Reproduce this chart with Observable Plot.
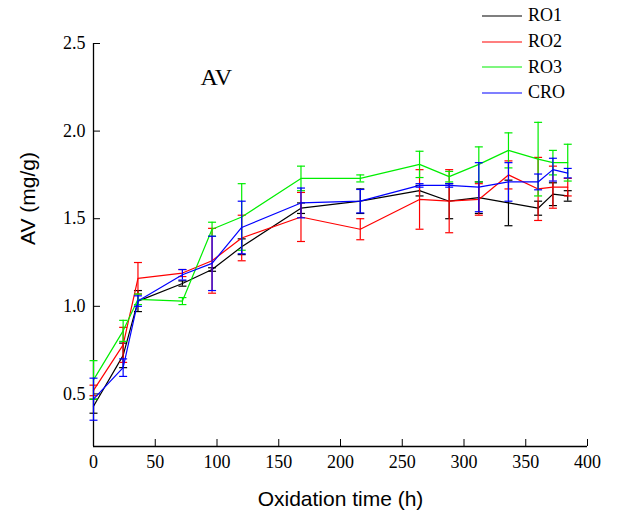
<!DOCTYPE html>
<html><head><meta charset="utf-8">
<script src="https://cdn.jsdelivr.net/npm/d3@7"></script>
<script src="https://cdn.jsdelivr.net/npm/@observablehq/plot@0.6"></script>
<style>
body{margin:0;background:#fff;}
#wrap{position:relative;width:617px;height:520px;}
#legend{position:absolute;left:481px;top:3px;font-family:"Liberation Serif",serif;font-size:18px;color:#000;}
.item{display:flex;align-items:center;height:25.7px;}
.item svg{margin-right:5px;display:block}
g[aria-label*="tick label"] text{font-family:"Liberation Serif",serif !important;font-size:18px !important;}
</style></head><body><div id="wrap"><div id="legend"></div></div>
<script>
const times = [0, 24, 36, 72, 96, 120, 168, 216, 264, 288, 312, 336, 360, 372, 384];
const seriesNames = ["RO1", "RO2", "RO3", "CRO"];
const seriesColors = ["#000000", "#ff0000", "#00ee00", "#0000ff"];
const ro1 = [0.43, 0.72, 1.03, 1.13, 1.21, 1.34, 1.56, 1.60, 1.66, 1.60, 1.62, 1.59, 1.56, 1.64, 1.63];
const ro1Err = [0.04, 0.07, 0.06, 0.015, 0.01, 0.045, 0.03, 0.07, 0.03, 0.10, 0.09, 0.13, 0.04, 0.065, 0.03];
const ro2 = [0.52, 0.78, 1.16, 1.19, 1.26, 1.39, 1.51, 1.44, 1.61, 1.60, 1.61, 1.75, 1.67, 1.68, 1.68];
const ro2Err = [0.03, 0.10, 0.09, 0.02, 0.185, 0.13, 0.14, 0.06, 0.17, 0.18, 0.09, 0.08, 0.18, 0.12, 0.05];
const ro3 = [0.58, 0.86, 1.04, 1.03, 1.44, 1.51, 1.73, 1.73, 1.81, 1.74, 1.81, 1.89, 1.84, 1.82, 1.82];
const ro3Err = [0.11, 0.06, 0.03, 0.02, 0.04, 0.19, 0.07, 0.02, 0.075, 0.03, 0.10, 0.10, 0.21, 0.07, 0.105];
const cro = [0.47, 0.65, 1.03, 1.18, 1.245, 1.45, 1.59, 1.60, 1.69, 1.69, 1.68, 1.71, 1.71, 1.78, 1.76];
const croErr = [0.12, 0.05, 0.03, 0.03, 0.155, 0.15, 0.085, 0.067, 0.01, 0.01, 0.14, 0.11, 0.045, 0.065, 0.027];
const xTicks = [0, 50, 100, 150, 200, 250, 300, 350, 400];
const yTicks = [0.5, 1.0, 1.5, 2.0, 2.5];
const xLabel = "Oxidation time (h)";
const yLabel = "AV (mg/g)";
const panelLabel = "AV";

const values = [ro1, ro2, ro3, cro];
const errs = [ro1Err, ro2Err, ro3Err, croErr];
const rows = [];
seriesNames.forEach((s, i) => times.forEach((t, j) => rows.push({series: s, time: t, value: values[i][j], err: errs[i][j]})));

const capSymbol = {draw(ctx, size) { const w = Math.sqrt(size / Math.PI); ctx.moveTo(-w, 0); ctx.lineTo(w, 0); }};
const tickFont = {fontFamily: "Liberation Serif", fontSize: 18};

const marks = [
  Plot.axisX({ticks: xTicks, tickSize: -7, tickPadding: 16, tickFormat: d => String(d), label: null, ...tickFont}),
  Plot.axisY({ticks: yTicks, tickSize: -7, tickPadding: 15, tickFormat: d => d.toFixed(1), label: null, ...tickFont}),
  Plot.ruleX([0], {strokeWidth: 1.3}),
  Plot.ruleY([0.2], {strokeWidth: 1.3})
];
seriesNames.forEach((s, i) => {
  const data = rows.filter(r => r.series === s);
  const c = seriesColors[i];
  marks.push(
    Plot.ruleX(data, {x: "time", y1: d => d.value - d.err, y2: d => d.value + d.err, stroke: c, strokeWidth: 1.2}),
    Plot.dot(data, {x: "time", y: d => d.value + d.err, symbol: capSymbol, r: 4, stroke: c, fill: "none", strokeWidth: 1.2}),
    Plot.dot(data, {x: "time", y: d => d.value - d.err, symbol: capSymbol, r: 4, stroke: c, fill: "none", strokeWidth: 1.2}),
    Plot.line(data, {x: "time", y: "value", stroke: c, strokeWidth: 1.2})
  );
});
marks.push(
  Plot.text([xLabel], {text: d => d, frameAnchor: "bottom", dy: 59, fontFamily: "Liberation Sans", fontSize: 21}),
  Plot.text([yLabel], {text: d => d, frameAnchor: "left", dx: -65, rotate: -90, fontFamily: "Liberation Sans", fontSize: 21}),
  Plot.text([panelLabel], {text: d => d, frameAnchor: "top-left", textAnchor: "start", dx: 107, dy: 24, fontFamily: "Liberation Serif", fontSize: 24})
);

const chart = Plot.plot({
  width: 617, height: 520,
  marginLeft: 93, marginRight: 30, marginTop: 43, marginBottom: 74,
  style: {fontFamily: "Liberation Serif", fontSize: "18px", color: "#000", background: "#fff", overflow: "visible"},
  x: {domain: [0, 400]},
  y: {domain: [0.2, 2.5]},
  marks
});
d3.select(chart).selectAll('g[aria-label*="tick label"] text, g[aria-label*="tick label"]')
  .attr("font-family", "Liberation Serif").attr("font-size", 18)
  .style("font-family", "Liberation Serif").style("font-size", "18px");
document.getElementById("wrap").prepend(chart);

const legend = document.getElementById("legend");
seriesNames.forEach((s, i) => {
  const item = document.createElement("div");
  item.className = "item";
  item.innerHTML = `<svg width="42" height="4"><line x1="1" x2="41" y1="2" y2="2" stroke="${seriesColors[i]}" stroke-width="1.2"/></svg><span>${s}</span>`;
  legend.appendChild(item);
});
</script></body></html>
